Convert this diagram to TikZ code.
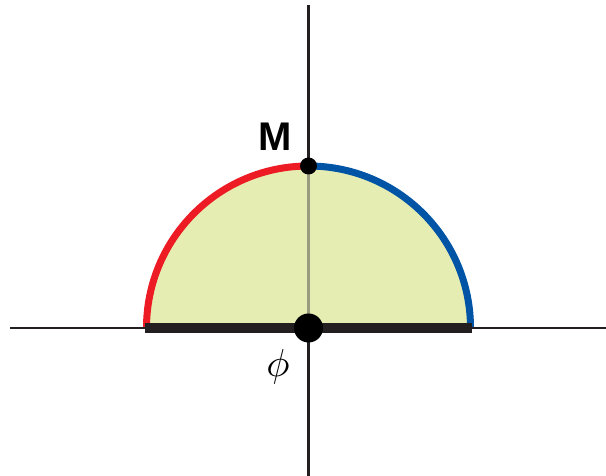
\documentclass[tikz,border=0pt]{standalone}
\usepackage{fontspec}
\usepackage{graphicx}
\newfontfamily\labfont{Liberation Sans}
\definecolor{fillc}{HTML}{E6EDB3}
\definecolor{redc}{HTML}{ED1C24}
\definecolor{bluec}{HTML}{0054A6}
\definecolor{blk}{HTML}{231F20}
\definecolor{grayax}{HTML}{9A9C80}
\tikzset{
  axis/.style={draw=blk, line width=2.6pt},
  arcline/.style={line width=7pt},
  baseline/.style={draw=blk, line width=9.5pt},
  dot/.style={circle, fill=black, inner sep=0pt},
}
\begin{document}
\begin{tikzpicture}[x=1pt,y=1pt]
\useasboundingbox (0,0) rectangle (606,476);
\coordinate (C) at (308.5,148);
\coordinate (L) at (146.5,148);
\coordinate (R) at (470.5,148);
\coordinate (T) at (308.5,310);
\coordinate (AL) at (10,148);
\coordinate (AR) at (606,148);
\coordinate (AT) at (308.5,471);
\coordinate (AB) at (308.5,0);
% fill
\fill[fillc] (L) arc[start angle=180, end angle=0, radius=162] -- cycle;
% vertical axis inside (gray)
\draw[grayax, line width=2.6pt] (C) -- (T);
% arcs
\draw[redc, arcline] (L) arc[start angle=180, end angle=90, radius=162];
\draw[bluec, arcline] (T) arc[start angle=90, end angle=0, radius=162];
% axes
\draw[axis] (AL) -- (AR);
\draw[axis] (T) -- (AT);
\draw[axis] (C) -- (AB);
% base
\draw[baseline] ([xshift=-2pt]L) -- ([xshift=1pt]R);
% dots
\node[dot, minimum size=29pt] (O) at (C) {};
\node[dot, minimum size=17pt] (Mdot) at (T) {};
% labels
\node[font=\labfont\bfseries\fontsize{40}{40}\selectfont, inner sep=0pt] (Mlab) at (275,339) {M};
\node[inner sep=0pt] (philab) at (278,109) {\scalebox{3.9}{$\phi$}};
\end{tikzpicture}
\end{document}
